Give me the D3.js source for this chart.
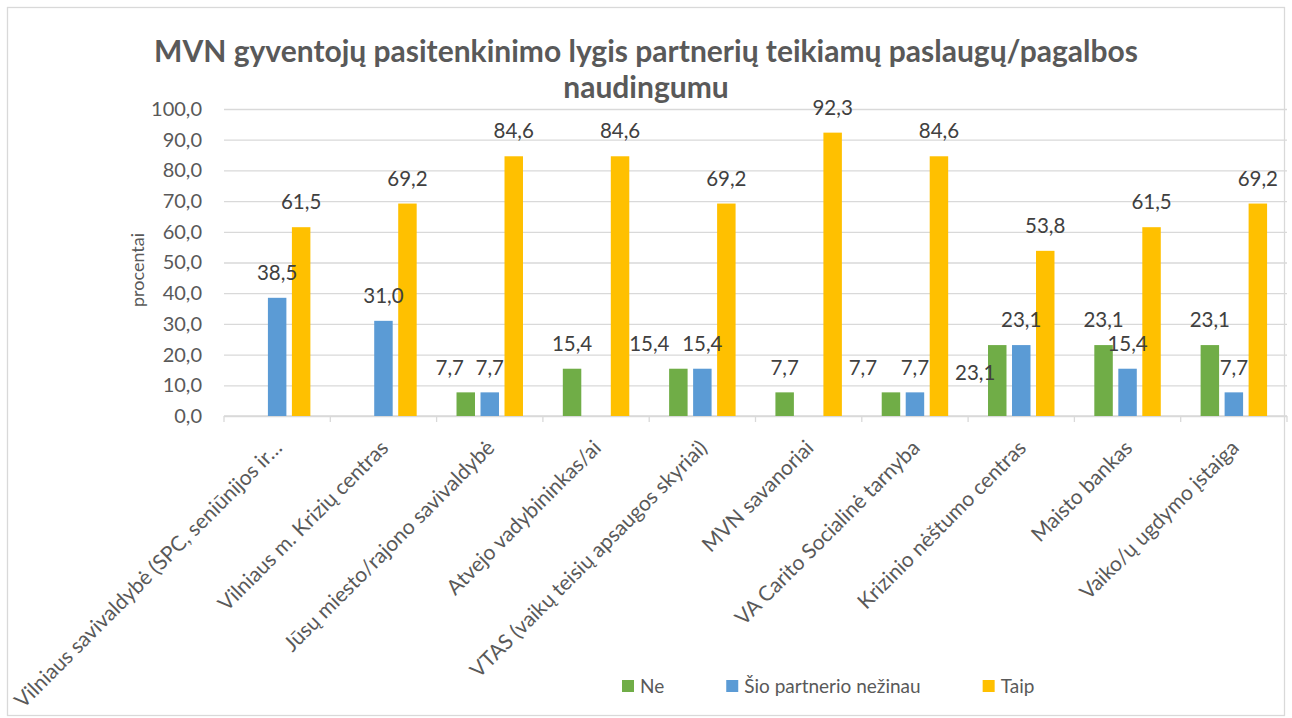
<!DOCTYPE html>
<html><head><meta charset="utf-8">
<script src="https://cdn.jsdelivr.net/npm/d3@7"></script>
<style>body{margin:0;background:#fff}svg{display:block}</style>
</head><body><svg id="c" width="1292" height="718"></svg>
<script>
const categories = [
  "Vilniaus savivaldybė (SPC, seniūnijos ir…",
  "Vilniaus m. Krizių centras",
  "Jūsų miesto/rajono savivaldybė",
  "Atvejo vadybininkas/ai",
  "VTAS (vaikų teisių apsaugos skyriai)",
  "MVN savanoriai",
  "VA Carito Socialinė tarnyba",
  "Krizinio nėštumo centras",
  "Maisto bankas",
  "Vaiko/ų ugdymo įstaiga"
];
const seriesNames = ["Ne", "Šio partnerio nežinau", "Taip"];
const neValues      = [null, null, 7.7, 15.4, 15.4, 7.7, 7.7, 23.1, 23.1, 23.1];
const nezinauValues = [38.5, 31.0, 7.7, null, 15.4, null, 7.7, 23.1, 15.4, 7.7];
const taipValues    = [61.5, 69.2, 84.6, 84.6, 69.2, 92.3, 84.6, 53.8, 61.5, 69.2];
const yTickValues = [0, 10, 20, 30, 40, 50, 60, 70, 80, 90, 100];
const titleLines = ["MVN gyventojų pasitenkinimo lygis partnerių teikiamų paslaugų/pagalbos", "naudingumu"];
const yAxisTitle = "procentai";

// styling / layout
const colors = ["#70AD47", "#5B9BD5", "#FFC000"];
const FONT = "Lato, 'Open Sans', sans-serif";
// manual nudges of a few data labels (category index - series index): [dx, dy]
const labelNudge = {"2-0": [-16, 0], "4-0": [-29, 0], "6-0": [-28, 0], "7-0": [-22, 53]};

const seriesValues = [neValues, nezinauValues, taipValues];
const svg = d3.select("#c");
const X0 = 224, X1 = 1287, Y0 = 416, Y1 = 109;

svg.append("rect").attr("x", 7.5).attr("y", 7.5).attr("width", 1277).attr("height", 708)
  .attr("fill", "#fff").attr("stroke", "#d9d9d9").attr("stroke-width", 1.3);

const x0 = d3.scaleBand().domain(categories).range([X0, X1]).padding(0);
const x1 = d3.scaleBand().domain(seriesNames).range([0, x0.bandwidth()]).paddingInner(0.23).paddingOuter(0.83);
const y = d3.scaleLinear().domain([0, 100]).range([Y0, Y1]);
const fmt = v => d3.format(".1f")(v).replace(".", ",");

// y axis with gridlines
const ya = svg.append("g").attr("transform", `translate(${X0},0)`)
  .call(d3.axisLeft(y).tickValues(yTickValues).tickSize(-(X1 - X0)).tickPadding(22).tickFormat(fmt));
ya.select(".domain").remove();
ya.selectAll(".tick line").attr("stroke", "#d9d9d9").attr("stroke-width", 1.3);
ya.selectAll(".tick text").attr("fill", "#595959").style("font-family", FONT).style("font-size", "20px");

// x axis baseline and boundary ticks
svg.append("line").attr("x1", X0).attr("x2", X1).attr("y1", y(0)).attr("y2", y(0))
  .attr("stroke", "#d9d9d9").attr("stroke-width", 1.3);
const bounds = categories.map(c => x0(c)).concat([X1]);
svg.append("g").selectAll("line").data(bounds).join("line")
  .attr("x1", d => d).attr("x2", d => d).attr("y1", y(0)).attr("y2", y(0) + 6)
  .attr("stroke", "#d9d9d9").attr("stroke-width", 1.3);

// category labels
svg.append("g").selectAll("text").data(categories).join("text")
  .attr("transform", d => `translate(${x0(d) + x0.bandwidth() / 2 + 1},${y(0) + 28}) rotate(-45)`)
  .attr("text-anchor", "end").attr("dy", "0.35em")
  .attr("fill", "#595959").style("font-family", FONT).style("font-size", "21px")
  .text(d => d);

// bars
const items = [];
categories.forEach((c, ci) => seriesNames.forEach((s, si) => {
  const v = seriesValues[si][ci];
  if (v != null) items.push({c, ci, s, si, v});
}));
svg.append("g").selectAll("rect").data(items).join("rect")
  .attr("x", d => x0(d.c) + x1(d.s)).attr("width", x1.bandwidth())
  .attr("y", d => y(d.v)).attr("height", d => y(0) - y(d.v))
  .attr("fill", d => colors[d.si]);

// data labels
svg.append("g").selectAll("text").data(items).join("text")
  .attr("x", d => x0(d.c) + x1(d.s) + x1.bandwidth() / 2 + (labelNudge[d.ci + "-" + d.si] || [0, 0])[0])
  .attr("y", d => y(d.v) - 25 + (labelNudge[d.ci + "-" + d.si] || [0, 0])[1])
  .attr("dy", "0.35em").attr("text-anchor", "middle")
  .attr("fill", "#404040").style("font-family", FONT).style("font-size", "20.5px")
  .text(d => fmt(d.v));

// y axis title
svg.append("text").attr("transform", `translate(138,270) rotate(-90)`)
  .attr("text-anchor", "middle").attr("dy", "0.35em")
  .attr("fill", "#595959").style("font-family", FONT).style("font-size", "18px").text(yAxisTitle);

// title
svg.append("g").selectAll("text").data(titleLines).join("text")
  .attr("x", 646).attr("y", (d, i) => 62 + i * 36).attr("text-anchor", "middle")
  .attr("fill", "#595959").style("font-family", FONT).style("font-size", "30px").style("font-weight", "bold")
  .text(d => d);

// legend
const lg = svg.append("g");
let lx = 622;
seriesNames.forEach((s, i) => {
  lg.append("rect").attr("x", lx).attr("y", 680).attr("width", 12).attr("height", 12).attr("fill", colors[i]);
  const t = lg.append("text").attr("x", lx + 18).attr("y", 686).attr("dy", "0.35em")
    .attr("fill", "#595959").style("font-family", FONT).style("font-size", "19px").text(s);
  lx += 18 + t.node().getComputedTextLength() + 62;
});
</script></body></html>
